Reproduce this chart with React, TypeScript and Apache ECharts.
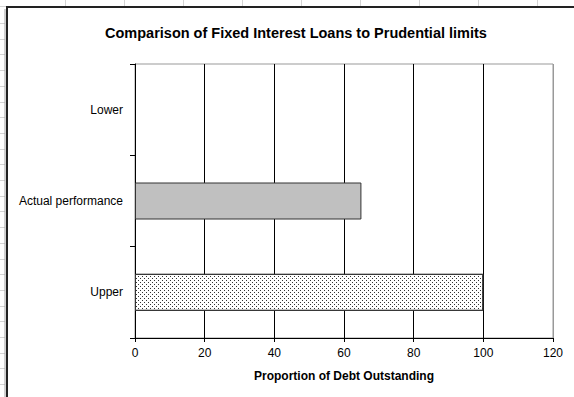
import React, { useEffect, useRef } from "react";
import * as echarts from "echarts";

const categories = ["Upper", "Actual performance", "Lower"];
const values = [100, 65, 0];
const xTicks = { min: 0, max: 120, interval: 20 };
const titleText = "Comparison of Fixed Interest Loans to Prudential limits";
const xAxisName = "Proportion of Debt Outstanding";

const FONT = "'Liberation Sans', Arial, sans-serif";

export default function App() {
  const ref = useRef<HTMLDivElement>(null);
  useEffect(() => {
    if (!ref.current) return;
    const chart = echarts.init(ref.current, null, { renderer: "svg" });

    const sheetLines: any[] = [];
    [65, 124, 183, 242, 301, 360, 419, 478, 537].forEach((x) => {
      sheetLines.push({
        type: "line",
        shape: { x1: x + 0.5, y1: 0, x2: x + 0.5, y2: 6 },
        style: { stroke: "#d4d4d4", lineWidth: 1 },
        silent: true,
      });
    });
    for (let i = 0; i < 24; i++) {
      const y = Math.round(23 + i * 15.7) + 0.5;
      if (y > 397) break;
      sheetLines.push({
        type: "line",
        shape: { x1: 0, y1: y, x2: 5, y2: y },
        style: { stroke: "#d4d4d4", lineWidth: 1 },
        silent: true,
      });
    }
    sheetLines.push({
      type: "line",
      shape: { x1: 0, y1: 6.5, x2: 6, y2: 6.5 },
      style: { stroke: "#d4d4d4", lineWidth: 1 },
      silent: true,
    });
    sheetLines.push({
      type: "line",
      shape: { x1: 5, y1: 9, x2: 5, y2: 400 },
      style: { stroke: "#a0a0a0", lineWidth: 1 },
      silent: true,
    });
    sheetLines.push({
      type: "polyline",
      shape: { points: [[7, 420], [7, 7], [600, 7]] },
      style: { stroke: "#222", lineWidth: 2, fill: null },
      silent: true,
    });

    const itemStyles = [
      {
        color: "#ffffff",
        borderColor: "#333",
        borderWidth: 1,
        decal: {
          symbol: "rect",
          symbolSize: 1,
          dashArrayX: [[1, 3], [0, 2, 1, 1]],
          dashArrayY: [1, 1],
          rotation: 0,
          color: "#333",
          backgroundColor: "#ffffff",
        },
      },
      { color: "#c0c0c0", borderColor: "#333", borderWidth: 1 },
      { color: "#ffffff", borderColor: "#333", borderWidth: 0 },
    ];

    chart.setOption({
      animation: false,
      backgroundColor: "#ffffff",
      textStyle: { fontFamily: FONT },
      title: {
        text: titleText,
        left: 100,
        top: 20,
        textStyle: {
          fontFamily: FONT,
          fontSize: 14.5,
          fontWeight: "bold",
          color: "#000",
        },
      },
      grid: {
        left: 135,
        right: 21,
        top: 64,
        bottom: 59,
        show: true,
        borderColor: "#999",
        borderWidth: 1,
        backgroundColor: "#fff",
      },
      xAxis: {
        type: "value",
        min: xTicks.min,
        max: xTicks.max,
        interval: xTicks.interval,
        name: xAxisName,
        nameLocation: "middle",
        nameGap: 32,
        nameTextStyle: {
          fontFamily: FONT,
          fontSize: 12,
          fontWeight: "bold",
          color: "#000",
        },
        axisLine: { show: true, lineStyle: { color: "#000", width: 1 } },
        axisTick: { show: true, length: 4, lineStyle: { color: "#000" } },
        axisLabel: {
          fontFamily: FONT,
          fontSize: 12,
          color: "#000",
          margin: 9,
        },
        splitLine: {
          show: true,
          lineStyle: {
            color: ["#000", "#000", "#000", "#000", "#000", "#000", "#999"],
            width: 1,
          },
        },
      },
      yAxis: {
        type: "category",
        data: categories,
        axisLine: { show: true, lineStyle: { color: "#000", width: 1 } },
        axisTick: { show: true, length: 5, lineStyle: { color: "#000" } },
        axisLabel: {
          fontFamily: FONT,
          fontSize: 12,
          color: "#000",
          margin: 12,
        },
        splitLine: { show: false },
      },
      series: [
        {
          type: "bar",
          barWidth: 37,
          data: values.map((v, i) => ({ value: v, itemStyle: itemStyles[i] })),
        },
      ],
      graphic: sheetLines,
    });
    return () => chart.dispose();
  }, []);
  return (
    <div
      ref={ref}
      style={{ position: "fixed", left: 0, top: 0, width: 574, height: 397 }}
    />
  );
}
